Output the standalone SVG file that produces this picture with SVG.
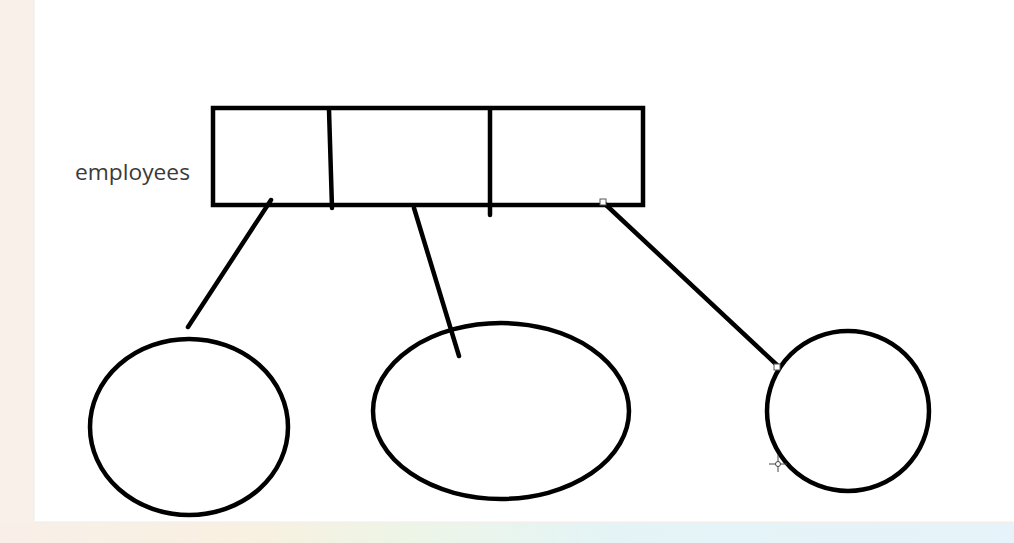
<svg xmlns="http://www.w3.org/2000/svg" width="1014" height="543" viewBox="0 0 1014 543">
  <defs>
    <linearGradient id="bottomGrad" x1="0" y1="0" x2="1" y2="0">
      <stop offset="0" stop-color="#f9efe9"/>
      <stop offset="0.25" stop-color="#f8f0e0"/>
      <stop offset="0.4" stop-color="#edf5e6"/>
      <stop offset="0.6" stop-color="#e4f4f6"/>
      <stop offset="1" stop-color="#e6f3fa"/>
    </linearGradient>
    <style>
      .shape { fill: none; stroke: #000; stroke-width: 4.5; stroke-linecap: round; }
      .conn { fill: none; stroke: #000; stroke-width: 4.5; stroke-linecap: round; }
      .handle { fill: #fff; stroke: #555; stroke-width: 1; }
      .label { font-family: "Open Sans", "Noto Sans", "Liberation Sans", sans-serif; font-size: 22px; fill: #3a3a3a; }
    </style>
  </defs>
  <rect x="0" y="0" width="1014" height="543" fill="#f9f0ea"/>
  <rect x="0" y="523" width="1014" height="20" fill="url(#bottomGrad)"/>
  <rect x="34" y="-1" width="981" height="523" fill="#ffffff" stroke="#ececec" stroke-width="1"/>

  <g id="employees-label">
    <text class="label" x="75" y="180" textLength="115" lengthAdjust="spacingAndGlyphs">employees</text>
  </g>

  <g id="employees-array">
    <rect class="shape" x="213" y="108" width="430" height="97" stroke-linecap="butt"/>
    <line class="shape" x1="329" y1="110" x2="332" y2="208"/>
    <line class="shape" x1="490" y1="110" x2="490" y2="215"/>
  </g>

  <g id="ellipse-left">
    <ellipse class="shape" cx="189" cy="427" rx="99" ry="88"/>
  </g>
  <g id="ellipse-middle">
    <ellipse class="shape" cx="501" cy="411" rx="128" ry="88"/>
  </g>
  <g id="circle-right">
    <ellipse class="shape" cx="848" cy="411" rx="81" ry="80"/>
  </g>

  <g id="connectors">
    <line class="conn" x1="271" y1="200" x2="188" y2="327"/>
    <line class="conn" x1="414" y1="208" x2="459" y2="356"/>
    <line class="conn" x1="605" y1="204" x2="778" y2="366"/>
    <rect class="handle" x="600" y="199" width="6" height="6"/>
    <rect class="handle" x="774" y="364" width="6" height="6"/>
  </g>

  <g id="cursor" stroke="#444" stroke-width="1" fill="none">
    <line x1="778" y1="455" x2="778" y2="472"/>
    <line x1="769" y1="464" x2="787" y2="464"/>
    <circle cx="778" cy="464" r="2.5" fill="#fff"/>
  </g>
</svg>
